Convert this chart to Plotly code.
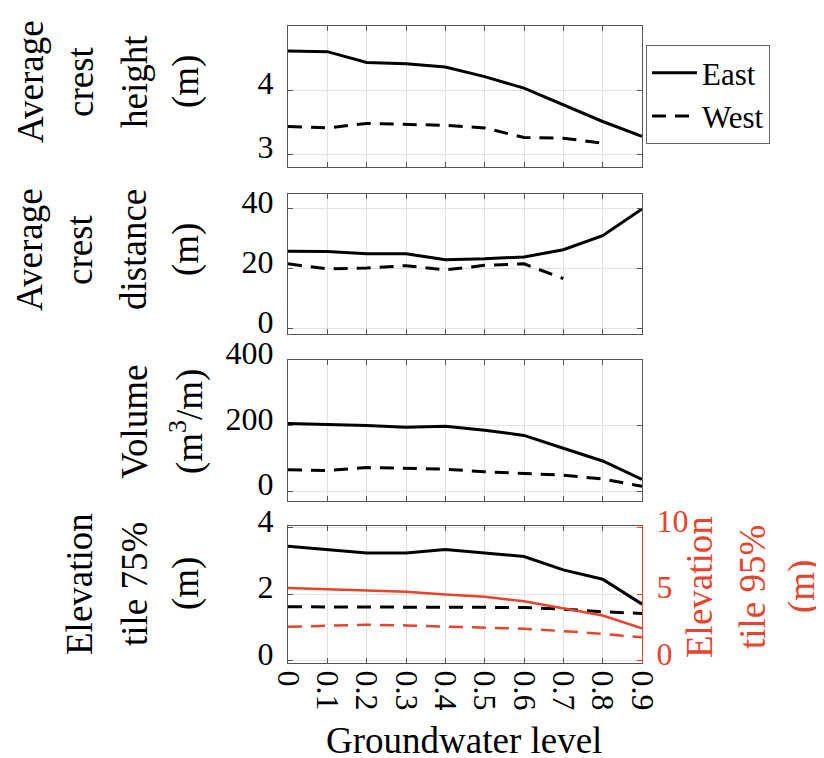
import plotly.graph_objects as go

# ---------------- data ----------------
gw_level = [0, 0.1, 0.2, 0.3, 0.4, 0.5, 0.6, 0.7, 0.8, 0.9]
gw_ticktext = ["0", "0.1", "0.2", "0.3", "0.4", "0.5", "0.6", "0.7", "0.8", "0.9"]

crest_height_east = [4.61, 4.60, 4.43, 4.41, 4.36, 4.21, 4.03, 3.77, 3.51, 3.28]
crest_height_west = [3.43, 3.41, 3.48, 3.47, 3.45, 3.41, 3.26, 3.25, 3.17]

crest_dist_east = [25.9, 25.8, 25.1, 25.1, 23.1, 23.4, 24.0, 26.4, 31.1, 40.0]
crest_dist_west = [21.7, 20.0, 20.3, 21.1, 19.7, 21.2, 21.7, 16.8]

volume_east = [206, 204, 200, 195, 198, 186, 170, 131, 92, 36]
volume_west = [65, 63, 72, 69, 67, 59, 54, 49, 37, 15]

elev75_east = [3.44, 3.34, 3.24, 3.24, 3.34, 3.24, 3.13, 2.73, 2.45, 1.70]
elev75_west = [1.62, 1.62, 1.62, 1.62, 1.62, 1.62, 1.60, 1.55, 1.47, 1.42]

elev95_east = [5.47, 5.36, 5.26, 5.19, 4.98, 4.80, 4.47, 3.96, 3.40, 2.43]
elev95_west = [2.55, 2.60, 2.70, 2.65, 2.58, 2.48, 2.40, 2.22, 2.02, 1.76]

series_names = ["East", "West"]

# ---------------- style ----------------
FONT = "Liberation Serif"
BLACK = "#000000"
RED = "#E8432E"
AX = "#555555"
GRID = "#E2E2E2"
TICK_SIZE = 32
TITLE_SIZE = 37
DASH = "14px,9px"
LW = 3

W, H = 824, 758
ML, MR, MT, MB = 280, 190, 18, 103
PW = W - ML - MR
PH = H - MT - MB


def py(px):  # pixel y (from top) -> paper y
    return (H - MB - px) / PH


def pxx(px):  # pixel x -> paper x
    return (px - ML) / PW


fig = go.Figure()

n = len
fig.add_trace(go.Scatter(x=gw_level[:n(crest_height_east)], y=crest_height_east, name=series_names[0],
                         mode="lines", line=dict(color=BLACK, width=LW), xaxis="x", yaxis="y"))
fig.add_trace(go.Scatter(x=gw_level[:n(crest_height_west)], y=crest_height_west, name=series_names[1],
                         mode="lines", line=dict(color=BLACK, width=LW, dash=DASH), xaxis="x", yaxis="y"))

fig.add_trace(go.Scatter(x=gw_level[:n(crest_dist_east)], y=crest_dist_east, showlegend=False,
                         mode="lines", line=dict(color=BLACK, width=LW), xaxis="x2", yaxis="y2"))
fig.add_trace(go.Scatter(x=gw_level[:n(crest_dist_west)], y=crest_dist_west, showlegend=False,
                         mode="lines", line=dict(color=BLACK, width=LW, dash=DASH), xaxis="x2", yaxis="y2"))

fig.add_trace(go.Scatter(x=gw_level[:n(volume_east)], y=volume_east, showlegend=False,
                         mode="lines", line=dict(color=BLACK, width=LW), xaxis="x3", yaxis="y3"))
fig.add_trace(go.Scatter(x=gw_level[:n(volume_west)], y=volume_west, showlegend=False,
                         mode="lines", line=dict(color=BLACK, width=LW, dash=DASH), xaxis="x3", yaxis="y3"))

fig.add_trace(go.Scatter(x=gw_level[:n(elev75_east)], y=elev75_east, showlegend=False,
                         mode="lines", line=dict(color=BLACK, width=LW), xaxis="x4", yaxis="y4"))
fig.add_trace(go.Scatter(x=gw_level[:n(elev75_west)], y=elev75_west, showlegend=False,
                         mode="lines", line=dict(color=BLACK, width=LW, dash=DASH), xaxis="x4", yaxis="y4"))
fig.add_trace(go.Scatter(x=gw_level[:n(elev95_east)], y=elev95_east, showlegend=False,
                         mode="lines", line=dict(color=RED, width=2.5), xaxis="x4", yaxis="y5"))
fig.add_trace(go.Scatter(x=gw_level[:n(elev95_west)], y=elev95_west, showlegend=False,
                         mode="lines", line=dict(color=RED, width=2.5, dash=DASH), xaxis="x4", yaxis="y5"))

# panel pixel extents (top, bottom)
panels = [(18, 159), (186, 326), (352, 493), (518, 655)]
yranges = [[2.8, 5.0], [-1.7, 45], [-30, 400], [-0.07, 4.05]]
yticks = [[3, 4, 5], [0, 20, 40], [0, 200, 400], [0, 2, 4]]

common_x = dict(range=[0, 0.9], tickvals=gw_level, ticktext=gw_ticktext, showgrid=True,
                gridcolor=GRID, gridwidth=1, zeroline=False, showline=True, linecolor=AX,
                linewidth=1, mirror="ticks", ticks="inside", ticklen=5, tickcolor=AX,
                domain=[0, 1], tickfont=dict(family=FONT, size=TICK_SIZE, color=BLACK))

layout = dict(
    width=W, height=H,
    margin=dict(l=ML, r=MR, t=MT, b=MB, autoexpand=False),
    paper_bgcolor="white", plot_bgcolor="white",
    font=dict(family=FONT, size=TICK_SIZE, color=BLACK),
    showlegend=True,
    legend=dict(x=pxx(638), y=py(37), xanchor="left", yanchor="top",
                bordercolor="#666666", borderwidth=1, bgcolor="white",
                font=dict(family=FONT, size=31, color=BLACK),
                tracegroupgap=0, itemwidth=45),
)

for i in range(4):
    k = "" if i == 0 else str(i + 1)
    top, bot = panels[i]
    xa = dict(common_x)
    xa["anchor"] = "y" + k
    xa["showticklabels"] = (i == 3)
    if i == 3:
        xa["tickangle"] = 90
    else:
        xa["matches"] = "x4"
    layout["xaxis" + k] = xa
    ya = dict(range=yranges[i], tickvals=yticks[i], showgrid=True, gridcolor=GRID, gridwidth=1,
              zeroline=False, showline=True, linecolor=AX, linewidth=1,
              mirror=("ticks" if i < 3 else False), ticks="inside", ticklen=5, tickcolor=AX,
              anchor="x" + k, domain=[max(0.0, py(bot)), min(1.0, py(top))],
              ticklabelstandoff=7, ticklabelshift=-7,
              tickfont=dict(family=FONT, size=TICK_SIZE, color=BLACK))
    layout["yaxis" + k] = ya

layout["yaxis5"] = dict(range=[-0.175, 10.125], tickvals=[0, 5, 10], overlaying="y4", side="right",
                        anchor="x4", showgrid=False, zeroline=False, showline=True, linecolor=RED,
                        linewidth=1, ticks="inside", ticklen=5, tickcolor=RED,
                        ticklabelstandoff=7, ticklabelshift=-7,
                        tickfont=dict(family=FONT, size=TICK_SIZE, color=RED))

fig.update_layout(**layout)

# axis titles as rotated text lines
ann = []


def title_lines(lines, xs, yc, color=BLACK):
    for t, xp in zip(lines, xs):
        ann.append(dict(text=t, textangle=-90, x=pxx(xp), y=py(yc), xref="paper", yref="paper",
                        xanchor="center", yanchor="middle", showarrow=False,
                        font=dict(family=FONT, size=TITLE_SIZE, color=color)))


title_lines(["Average", "crest", "height", "(m)"], [22, 72, 126, 178], 74)
title_lines(["Average", "crest", "distance", "(m)"], [22, 72, 126, 178], 242)
title_lines(["Volume", "(m<sup>3</sup>/m)"], [126, 179], 414)
title_lines(["Elevation", "tile 75%", "(m)"], [71, 126, 178], 576)
title_lines(["Elevation", "tile 95%", "(m)"], [691, 744, 794], 579, RED)

ann.append(dict(text="Groundwater level", x=pxx(456), y=py(732), xref="paper", yref="paper",
                xanchor="center", yanchor="middle", showarrow=False,
                font=dict(family=FONT, size=TITLE_SIZE, color=BLACK)))

fig.update_layout(annotations=ann)

fig.write_html("out.html")
